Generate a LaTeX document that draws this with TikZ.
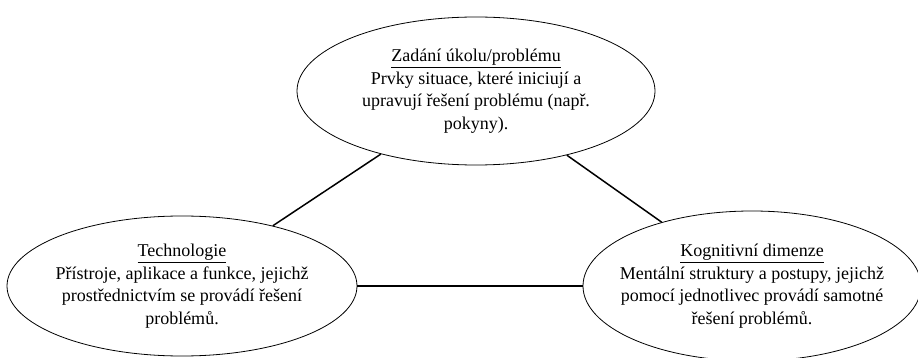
\documentclass[tikz,border=0pt]{standalone}
\usepackage{fontspec}
\setmainfont{Liberation Serif}
\usetikzlibrary{shapes.geometric}

\begin{document}
\begin{tikzpicture}[x=1pt, y=-1pt,
  area/.style={draw, ellipse, line width=0.8pt, inner xsep=-30pt, inner ysep=0pt,
    align=center, font=\fontsize{18}{22.5}\selectfont}]
  \useasboundingbox (0,0) rectangle (918,358);
  \node[area, minimum width=358, minimum height=148] (Task) at (476,91)
  {\underline{Zadání úkolu/problému}\\ Prvky situace, které iniciují a\\
    upravují řešení problému (např.\\ pokyny).};
  \node[area, minimum width=350, minimum height=140] (Tech) at (182,286)
  {\underline{Technologie}\\ Přístroje, aplikace a funkce, jejichž\\
    prostřednictvím se provádí řešení\\ problémů.};
  \node[area, minimum width=338, minimum height=150] (Cog) at (752,286)
  {\underline{Kognitivní dimenze}\\ Mentální struktury a postupy, jejichž\\
    pomocí jednotlivec provádí samotné\\ řešení problémů.};

\draw[line width=1.5pt] (Task) -- (Tech);
\draw[line width=1.5pt] (Task) -- (Cog);
\draw[line width=1.5pt] (Tech) -- (Cog);
\end{tikzpicture}
\end{document}
